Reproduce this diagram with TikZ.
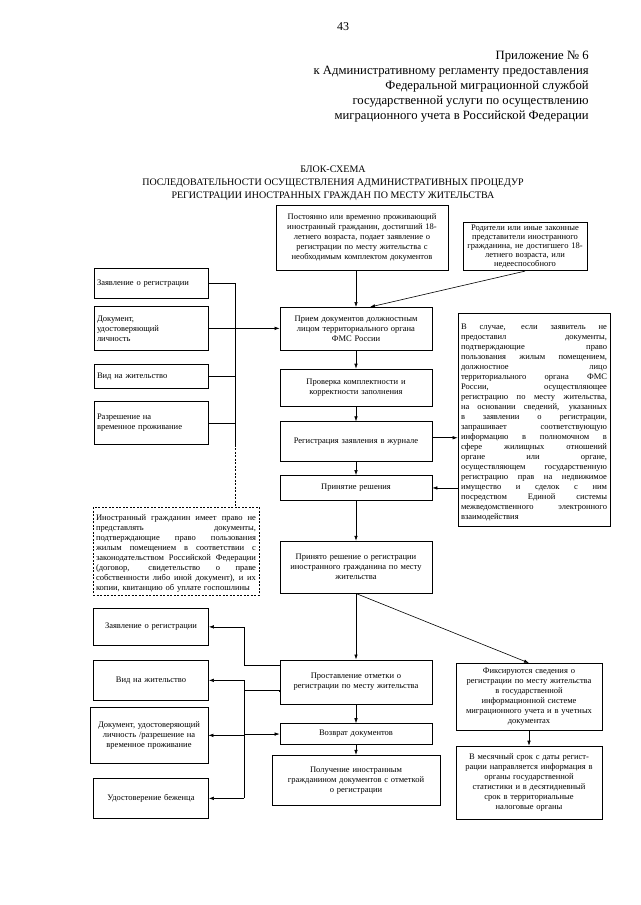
\documentclass[tikz,border=0pt]{standalone}
\usepackage{fontspec}
\setmainfont{Liberation Serif}
\usetikzlibrary{arrows.meta,positioning}
\newcommand{\gap}[1]{\par\vspace*{#1pt}}
\newcommand{\jline}[1]{\par\noindent\hbox to \hsize{\spaceskip=0.25em plus 1fil\relax #1}\par}

\begin{document}
\begin{tikzpicture}[x=1pt, y=-1pt,
  box/.style={rectangle, draw, line width=0.7pt, align=center, inner sep=3pt,
    text width=#1, font=\fontsize{8.5}{10}\selectfont},
  box/.default=146pt,
  lbox/.style={box=#1, align=left},
  lbox/.default=108pt,
  note/.style={box=#1, align=left, dash pattern=on 2pt off 1.5pt},
  >={Latex[length=5pt,width=3.5pt]}, line width=0.6pt, node distance=18pt
]
\useasboundingbox (0,0) rectangle (640,905);

% шапка
\node[font=\fontsize{12}{14}\selectfont] (nomer) at (343,27) {43};
\node[anchor=north east, align=right, inner sep=0pt,
  font=\fontsize{12.7}{15}\selectfont] (prilozh) at (589,51)
  {Приложение № 6\\к Административному регламенту предоставления\\
   Федеральной миграционной службой\\государственной услуги по осуществлению\\
   миграционного учета в Российской Федерации};
\node[anchor=north, align=center, inner sep=0pt,
  font=\fontsize{10}{13}\selectfont] (nazv) at (333,166)
  {БЛОК-СХЕМА\\ПОСЛЕДОВАТЕЛЬНОСТИ ОСУЩЕСТВЛЕНИЯ АДМИНИСТРАТИВНЫХ ПРОЦЕДУР\\
   РЕГИСТРАЦИИ ИНОСТРАННЫХ ГРАЖДАН ПО МЕСТУ ЖИТЕЛЬСТВА};

% основная колонка
\node[box=166pt, anchor=north, minimum height=65pt] (inostr) at (362,205)
  {Постоянно или временно проживающий\\иностранный гражданин, достигший 18-\\
   летнего возраста, подает заявление о\\регистрации по месту жительства с\\
   необходимым комплектом документов};
\node[box=118pt, anchor=north, minimum height=46pt,
  font=\fontsize{8.5}{8.8}\selectfont] (roditeli) at (525,222)
  {Родители или иные законные\\представители иностранного\\
   гражданина, не достигшего 18-\\летнего возраста, или\\недееспособного};
\node[box, anchor=north, minimum height=43pt] (priem) at (356,307)
  {Прием документов должностным\\лицом территориального органа\\ФМС России};
\node[box, below=of priem, minimum height=37pt] (proverka)
  {Проверка комплектности и\\корректности заполнения\gap{8}};
\node[box, below=15pt of proverka, minimum height=40pt] (registr)
  {Регистрация заявления в журнале\gap{14}};
\node[box, below=13pt of registr, minimum height=25pt] (reshenie)
  {Принятие решения};
\node[box, below=40pt of reshenie, minimum height=52pt] (prinyato)
  {Принято решение о регистрации\\иностранного гражданина по месту\\
   жительства\gap{14}};
\node[box, below=66pt of prinyato, minimum height=44pt] (otmetka)
  {Проставление отметки о\\регистрации по месту жительства\gap{14}};
\node[box, below=19pt of otmetka, minimum height=21pt] (vozvrat)
  {Возврат документов};
\node[box=162pt, below=10pt of vozvrat, minimum height=50pt] (poluch)
  {Получение иностранным\\гражданином документов с отметкой\\о регистрации};

% правая колонка
\node[lbox=146pt, anchor=north, minimum height=213pt] (sluchay) at (534,313)
  {\jline{В случае, если заявитель не}\jline{предоставил документы,}%
   \jline{подтверждающие право}\jline{пользования жилым помещением,}%
   \jline{должностное лицо}\jline{территориального органа ФМС}%
   \jline{России, осуществляющее}\jline{регистрацию по месту жительства,}%
   \jline{на основании сведений, указанных}\jline{в заявлении о регистрации,}%
   \jline{запрашивает соответствующую}\jline{информацию в полномочном в}%
   \jline{сфере жилищных отношений}\jline{органе или органе,}%
   \jline{осуществляющем государственную}\jline{регистрацию прав на недвижимое}%
   \jline{имущество и сделок с ним}\jline{посредством Единой системы}%
   \jline{межведомственного электронного}\noindent взаимодействия};
\node[box=140pt, anchor=north, minimum height=67pt] (fiks) at (529,663)
  {Фиксируются сведения о\\регистрации по месту жительства\\в государственной\\
   информационной системе\\миграционного учета и в учетных\\документах};
\node[box=140pt, below=15pt of fiks, minimum height=73pt] (mesyac)
  {В месячный срок с даты регист-\\рации направляется информация в\\
   органы государственной\\статистики и в десятидневный\\
   срок в территориальные\\налоговые органы\gap{4}};

% левая колонка (документы)
\node[lbox, anchor=north, minimum height=30pt] (zayav1) at (151,268)
  {Заявление о регистрации\gap{12}};
\node[lbox, anchor=north, minimum height=44pt] (dokum1) at (151,306)
  {Документ,\\удостоверяющий\\личность\gap{6}};
\node[lbox, anchor=north, minimum height=24pt] (vid1) at (151,364)
  {Вид на жительство\gap{6}};
\node[lbox, anchor=north, minimum height=43pt] (razresh1) at (151,401)
  {Разрешение на\\временное проживание\gap{16}};
\node[note=160pt, anchor=north, minimum height=88pt] (pravo) at (176,507)
  {\jline{Иностранный гражданин имеет право не}\jline{представлять документы,}%
   \jline{подтверждающие право пользования}\jline{жилым помещением в соответствии с}%
   \jline{законодательством Российской Федерации}\jline{(договор, свидетельство о праве}%
   \jline{собственности либо иной документ), и их}\noindent копии, квитанцию об уплате госпошлины};

% левая колонка (возврат)
\node[box=109pt, anchor=north, minimum height=37pt] (zayav2) at (151,608)
  {Заявление о регистрации\gap{16}};
\node[box=109pt, anchor=north, minimum height=40pt] (vid2) at (151,660)
  {Вид на жительство\gap{16}};
\node[box=112pt, anchor=north, minimum height=56pt] (dokum2) at (149,707)
  {Документ, удостоверяющий\\личность /разрешение на\\временное проживание\gap{16}};
\node[box=109pt, anchor=north, minimum height=40pt] (bezh) at (151,778)
  {Удостоверение беженца\gap{18}};

\coordinate (shina) at (235,326);
\coordinate (shina2) at (244,690);

% связи
\draw[->] (inostr.south -| priem) -- (priem);
\draw[->] (roditeli.south) -- ([xshift=14pt]priem.north);
\draw (zayav1) -- (zayav1 -| shina);
\draw (dokum1) -- (dokum1 -| shina);
\draw (vid1) -- (vid1 -| shina);
\draw (razresh1) -- (razresh1 -| shina);
\draw (zayav1 -| shina) -- (razresh1.south -| shina);
\draw[dash pattern=on 2pt off 1.5pt] (razresh1.south -| shina) -- (pravo.north -| shina);
\draw[->] (dokum1 -| shina) -- (dokum1 -| priem.west);
\draw[->] (priem) -- (proverka);
\draw[->] (proverka) -- (registr);
\draw[->] (registr) -- (reshenie);
\draw[->] ([yshift=4pt]registr.east) -- ([yshift=4pt]registr.east -| sluchay.west);
\draw[->] (reshenie.east -| sluchay.west) -- (reshenie.east);
\draw[->] (reshenie) -- (prinyato);
\draw[->] (prinyato) -- (otmetka);
\draw[->] (prinyato.south) -- (fiks.north);
\draw[->] (fiks) -- (mesyac);
\draw[->] (otmetka) -- (vozvrat);
\draw[->] (vozvrat) -- (poluch);
\draw[->] ([yshift=-6pt]otmetka.north west) -| (zayav2 -| shina2) -- (zayav2);
\draw ([yshift=12pt]otmetka.south west) -- (otmetka.south west |- shina2) -- (shina2);
\draw (vid2 -| shina2) -- (bezh -| shina2);
\draw[->] (vid2 -| shina2) -- (vid2);
\draw[->] (dokum2 -| shina2) -- (dokum2);
\draw[->] (bezh -| shina2) -- (bezh);
\draw[->] (vozvrat -| shina2) -- (vozvrat);
\end{tikzpicture}
\end{document}
